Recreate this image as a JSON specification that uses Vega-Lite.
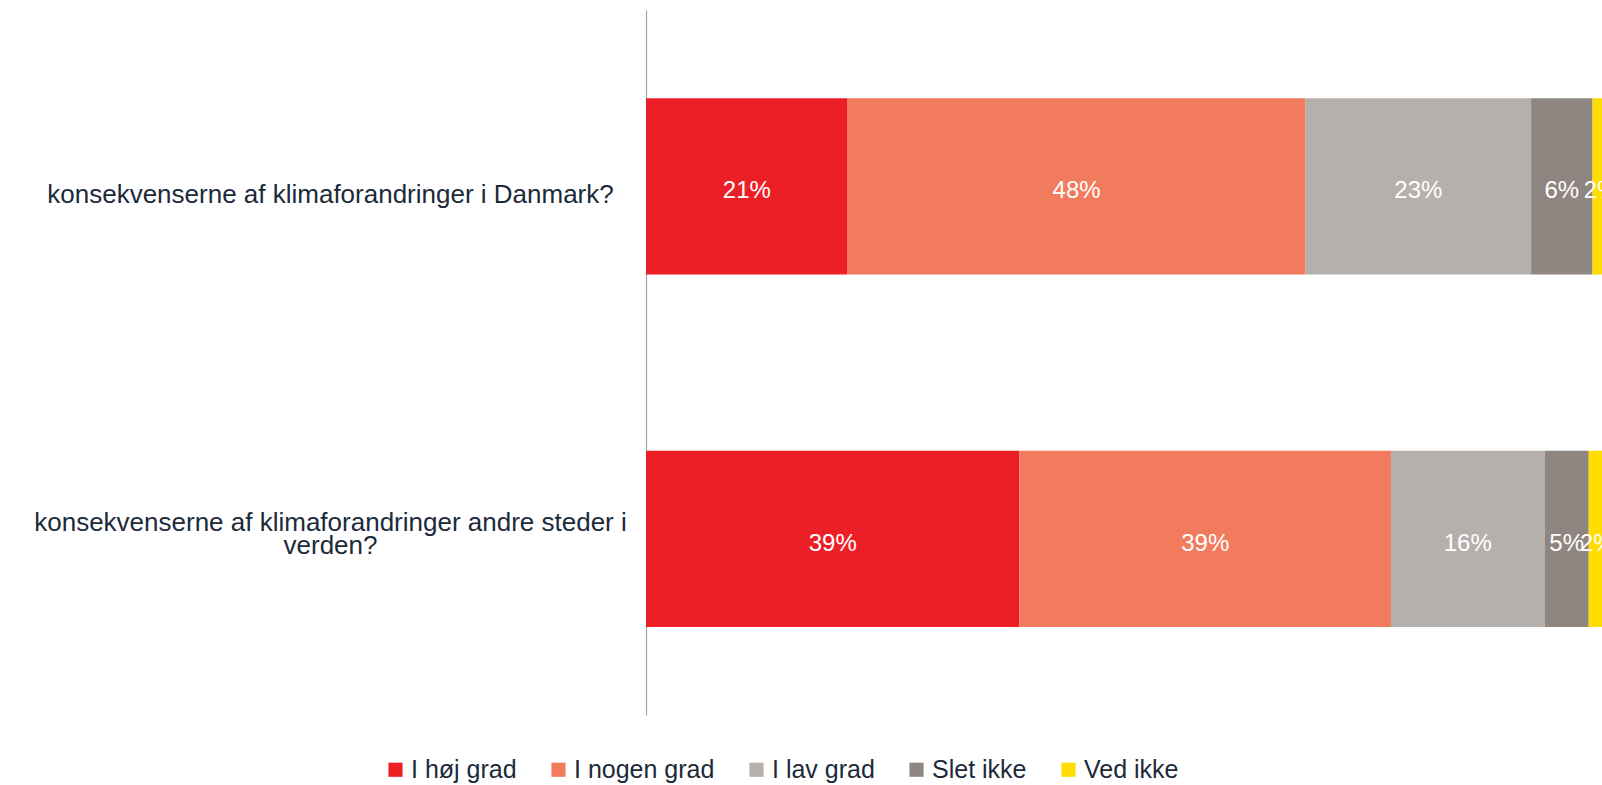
{
  "$schema": "https://vega.github.io/schema/vega-lite/v6.json",
  "autosize": {"type": "none"},
  "width": 960,
  "height": 705,
  "padding": {"left": 646, "top": 10, "right": 0, "bottom": 70},
  "background": "white",
  "config": {"view": {"stroke": null}, "font": "Liberation Sans"},
  "data": {
    "values": [
      {"q": "konsekvenserne af klimaforandringer i Danmark?", "cat": "I høj grad", "rank": 1, "pct": 0.210, "label": "21%"},
      {"q": "konsekvenserne af klimaforandringer i Danmark?", "cat": "I nogen grad", "rank": 2, "pct": 0.477, "label": "48%"},
      {"q": "konsekvenserne af klimaforandringer i Danmark?", "cat": "I lav grad", "rank": 3, "pct": 0.235, "label": "23%"},
      {"q": "konsekvenserne af klimaforandringer i Danmark?", "cat": "Slet ikke", "rank": 4, "pct": 0.064, "label": "6%"},
      {"q": "konsekvenserne af klimaforandringer i Danmark?", "cat": "Ved ikke", "rank": 5, "pct": 0.018, "label": "2%"},
      {"q": "konsekvenserne af klimaforandringer andre steder i verden?", "cat": "I høj grad", "rank": 1, "pct": 0.389, "label": "39%"},
      {"q": "konsekvenserne af klimaforandringer andre steder i verden?", "cat": "I nogen grad", "rank": 2, "pct": 0.387, "label": "39%"},
      {"q": "konsekvenserne af klimaforandringer andre steder i verden?", "cat": "I lav grad", "rank": 3, "pct": 0.160, "label": "16%"},
      {"q": "konsekvenserne af klimaforandringer andre steder i verden?", "cat": "Slet ikke", "rank": 4, "pct": 0.046, "label": "5%"},
      {"q": "konsekvenserne af klimaforandringer andre steder i verden?", "cat": "Ved ikke", "rank": 5, "pct": 0.018, "label": "2%"}
    ]
  },
  "transform": [
    {"stack": "pct", "groupby": ["q"], "sort": [{"field": "rank", "order": "ascending"}], "as": ["x0", "x1"]},
    {"calculate": "(datum.x0 + datum.x1) / 2", "as": "xm"}
  ],
  "encoding": {
    "y": {
      "field": "q",
      "type": "nominal",
      "sort": null,
      "scale": {"paddingInner": 0.5, "paddingOuter": 0.25},
      "axis": {
        "title": null,
        "domain": true,
        "domainColor": "#a6a6a6",
        "domainWidth": 1.2,
        "ticks": false,
        "grid": false,
        "labelFontSize": 26,
        "labelColor": "#1c2a3a",
        "labelAlign": "center",
        "labelPadding": 316,
        "labelLimit": 0,
        "labelLineHeight": 23,
        "labelOffset": {"condition": {"test": "datum.value == 'konsekvenserne af klimaforandringer i Danmark?'", "value": 9}, "value": -16},
        "labelExpr": "datum.value == 'konsekvenserne af klimaforandringer andre steder i verden?' ? ['konsekvenserne af klimaforandringer andre steder i', 'verden?'] : datum.value"
      }
    }
  },
  "layer": [
    {
      "mark": {"type": "bar"},
      "encoding": {
        "x": {"field": "x0", "type": "quantitative", "scale": {"domain": [0, 1]}, "axis": null},
        "x2": {"field": "x1"},
        "color": {
          "field": "cat",
          "type": "nominal",
          "scale": {
            "domain": ["I høj grad", "I nogen grad", "I lav grad", "Slet ikke", "Ved ikke"],
            "range": ["#ED1F26", "#F27B5E", "#B6B0AC", "#8F8681", "#FFDD00"]
          },
          "legend": {
            "title": null,
            "orient": "none",
            "direction": "horizontal",
            "legendX": -263,
            "legendY": 747,
            "symbolType": "square",
            "symbolSize": 200,
            "symbolStrokeWidth": 0,
            "symbolOpacity": 1,
            "labelFontSize": 25,
            "labelColor": "#1c2a3a",
            "labelOffset": 3,
            "columnPadding": 29,
            "labelLimit": 0
          }
        }
      }
    },
    {
      "mark": {"type": "text", "color": "white", "fontSize": 24, "align": "center", "baseline": "middle", "dy": 5},
      "encoding": {
        "x": {"field": "xm", "type": "quantitative"},
        "text": {"field": "label"}
      }
    }
  ]
}
